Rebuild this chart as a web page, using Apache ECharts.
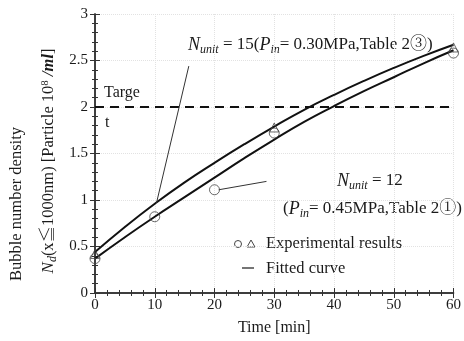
<!DOCTYPE html>
<html>
<head>
<meta charset="utf-8">
<script src="https://cdn.jsdelivr.net/npm/echarts@6/dist/echarts.min.js"></script>
<style>html,body{margin:0;padding:0;background:#fff}#c{width:464px;height:341px}</style>
</head>
<body>
<div id="c"></div>
<script>
// ---- data ----
const xTickLabels = ['0','10','20','30','40','50','60'];
const yTickLabels = ['0','0.5','1','1.5','2','2.5','3'];
const expTimesCircle = [0, 10, 20, 30, 60];
const expCircle = [0.37, 0.82, 1.11, 1.72, 2.58];   // N_unit = 12
const expTimesTri = [0, 30, 60];
const expTri = [0.42, 1.78, 2.64];                  // N_unit = 15
const fitTimes = [0, 5, 10, 15, 20, 25, 30, 35, 40, 45, 50, 55, 60];
const fit15 = [0.44, 0.71, 0.96, 1.19, 1.40, 1.60, 1.79, 1.97, 2.13, 2.28, 2.42, 2.55, 2.67];
const fit12 = [0.37, 0.60, 0.82, 1.03, 1.24, 1.45, 1.65, 1.84, 2.01, 2.17, 2.32, 2.47, 2.61];
const targetValue = 2;
const pointer15 = [[15.7, 2.44], [10.3, 0.97]];
const pointer12 = [[20.7, 1.11], [28.7, 1.20]];

const FONT = "'Liberation Serif', 'Noto Serif CJK JP', 'Noto Sans CJK JP', serif";
const zip = (a, b) => a.map((v, i) => [v, b[i]]);
const C = '#1a1a1a';

const chart = echarts.init(document.getElementById('c'));
const axisCommon = {
  type: 'value',
  axisLine: { show: true, lineStyle: { color: '#333', width: 1.5 } },
  axisTick: { show: true, inside: true, length: 5, lineStyle: { color: '#333' } },
  minorTick: { show: true, splitNumber: 5, length: 3, lineStyle: { color: '#333' } }
};
const richN = (big, small) => ({
  i: { fontStyle: 'italic', fontSize: big, fontFamily: FONT, fill: C },
  sub: { fontStyle: 'italic', fontSize: small, fontFamily: FONT, padding: [9, 0, 0, 0], fill: C }
});
chart.setOption({
  animation: false,
  textStyle: { fontFamily: FONT },
  grid: { left: 95, right: 5, top: 14, bottom: 47 },
  xAxis: [
    Object.assign({}, axisCommon, {
      min: 0, max: 60, interval: 10, position: 'bottom',
      axisLabel: { color: C, fontSize: 15, fontFamily: FONT, margin: 5,
        formatter: v => xTickLabels[Math.round(v / 10)] },
      splitLine: { show: true, lineStyle: { color: '#e2e2e2', type: 'dotted' } },
      name: 'Time [min]', nameLocation: 'middle', nameGap: 27,
      nameTextStyle: { color: C, fontSize: 16, fontFamily: FONT }
    }),
    Object.assign({}, axisCommon, {
      min: 0, max: 60, interval: 10, position: 'top',
      axisLabel: { show: false }, splitLine: { show: false }
    })
  ],
  yAxis: [
    Object.assign({}, axisCommon, {
      min: 0, max: 3, interval: 0.5, position: 'left',
      axisLabel: { color: C, fontSize: 15, fontFamily: FONT, margin: 7,
        formatter: v => yTickLabels[Math.round(v * 2)] },
      splitLine: { show: true, lineStyle: { color: '#e2e2e2', type: 'dotted' } }
    }),
    Object.assign({}, axisCommon, {
      min: 0, max: 3, interval: 0.5, position: 'right',
      axisLabel: { show: false }, splitLine: { show: false }
    })
  ],
  series: [
    { type: 'line', data: [[0, targetValue], [60, targetValue]], symbol: 'none',
      lineStyle: { color: '#111', width: 2, type: [9, 6] } },
    { type: 'line', data: zip(fitTimes, fit15), smooth: true, symbol: 'none',
      lineStyle: { color: '#111', width: 2 } },
    { type: 'line', data: zip(fitTimes, fit12), smooth: true, symbol: 'none',
      lineStyle: { color: '#111', width: 2 } },
    { type: 'line', data: pointer15, symbol: 'none', lineStyle: { color: '#333', width: 1 } },
    { type: 'line', data: pointer12, symbol: 'none', lineStyle: { color: '#333', width: 1 } },
    { type: 'scatter', data: zip(expTimesCircle, expCircle), symbol: 'circle', symbolSize: 10,
      itemStyle: { color: 'rgba(255,255,255,0)', borderColor: '#444', borderWidth: 1 }, z: 5 },
    { type: 'scatter', data: zip(expTimesTri, expTri), symbol: 'triangle', symbolSize: 9,
      itemStyle: { color: 'rgba(255,255,255,0)', borderColor: '#444', borderWidth: 1 }, z: 5 }
  ],
  graphic: [
    { type: 'text', x: 17, y: 204, rotation: Math.PI / 2,
      style: { text: 'Bubble number density', fill: C, font: '16.5px ' + FONT,
        align: 'center', verticalAlign: 'middle' } },
    { type: 'text', x: 49, y: 161, rotation: Math.PI / 2,
      style: { text: '{i|N}{sub|d}(x≦1000nm) [Particle 10{sup|8} {bi|/ml}]', fill: C,
        font: '16.5px ' + FONT, align: 'center', verticalAlign: 'middle',
        rich: {
          i: { fontStyle: 'italic', fontSize: 17, fontFamily: FONT, fill: C },
          sub: { fontStyle: 'italic', fontSize: 12, fontFamily: FONT, padding: [8, 0, 0, 0], fill: C },
          sup: { fontSize: 11, fontFamily: FONT, padding: [0, 0, 8, 0], fill: C },
          bi: { fontStyle: 'italic', fontWeight: 'bold', fontSize: 16.5, fontFamily: FONT, fill: C }
        } } },
    { type: 'text', x: 104, y: 93,
      style: { text: 'Targe', fill: C, font: '16px ' + FONT, verticalAlign: 'middle' } },
    { type: 'text', x: 105, y: 123,
      style: { text: 't', fill: C, font: '16px ' + FONT, verticalAlign: 'middle' } },
    { type: 'text', x: 188, y: 45,
      style: { text: '{i|N}{sub|unit} = 15({i|P}{sub|in}= 0.30MPa,Table 2③)', fill: C,
        font: '17px ' + FONT, verticalAlign: 'middle', rich: richN(18, 12) } },
    { type: 'text', x: 337, y: 181,
      style: { text: '{i|N}{sub|unit} = 12', fill: C, font: '17px ' + FONT, verticalAlign: 'middle',
        rich: richN(18, 12) } },
    { type: 'text', x: 283, y: 209,
      style: { text: '({i|P}{sub|in}= 0.45MPa,Table 2①)', fill: C, font: '17px ' + FONT, verticalAlign: 'middle',
        rich: richN(18, 12) } },
    { type: 'circle', shape: { cx: 238, cy: 244, r: 3.5 },
      style: { fill: 'none', stroke: '#444', lineWidth: 1 } },
    { type: 'polygon', shape: { points: [[251, 240], [255, 247], [247, 247]] },
      style: { fill: 'none', stroke: '#444', lineWidth: 1 } },
    { type: 'text', x: 266, y: 244,
      style: { text: 'Experimental results', fill: C, font: '16.5px ' + FONT, verticalAlign: 'middle' } },
    { type: 'line', shape: { x1: 242, y1: 268, x2: 254, y2: 268 },
      style: { stroke: C, lineWidth: 1.2 } },
    { type: 'text', x: 266, y: 269,
      style: { text: 'Fitted curve', fill: C, font: '16.5px ' + FONT, verticalAlign: 'middle' } }
  ]
});
</script>
</body>
</html>
